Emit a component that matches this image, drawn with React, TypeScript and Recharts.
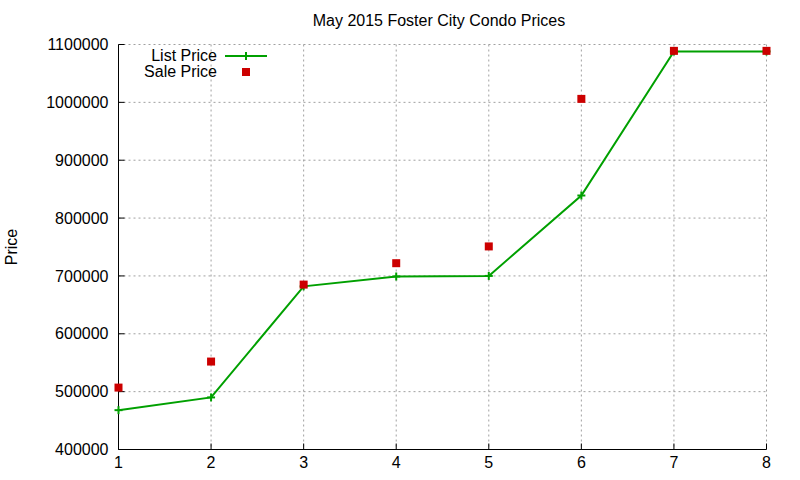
import React from 'react';
import { LineChart, Line, XAxis, YAxis, CartesianGrid } from 'recharts';

const homes = [1, 2, 3, 4, 5, 6, 7, 8];
const listPrice = [468000, 490000, 682000, 699000, 700000, 839000, 1088000, 1088000];
const salePrice = [507000, 552000, 685000, 722000, 751000, 1006000, 1089000, 1089000];
const yTicks = [400000, 500000, 600000, 700000, 800000, 900000, 1000000, 1100000];

const GREEN = '#00a000';
const RED = '#cc0000';
const FONT = '"Liberation Sans", Arial, sans-serif';

const data = homes.map((x, i) => ({ x, list: listPrice[i], sale: salePrice[i] }));

const PlusDot = (props: any) => {
  const { cx, cy } = props;
  if (cx == null || cy == null) return null;
  return (
    <g>
      <line x1={cx - 4} x2={cx + 4} y1={cy} y2={cy} stroke={GREEN} strokeWidth={2} />
      <line x1={cx} x2={cx} y1={cy - 4} y2={cy + 4} stroke={GREEN} strokeWidth={2} />
    </g>
  );
};

const SquareDot = (props: any) => {
  const { cx, cy } = props;
  if (cx == null || cy == null) return null;
  return <rect x={cx - 4} y={cy - 4} width={8} height={8} fill={RED} />;
};

const tickStyle = { fill: '#000', fontSize: 16, fontFamily: FONT };
const axisLine = { stroke: '#000', strokeWidth: 1 };
const tickLine = { stroke: '#000', strokeWidth: 1 };

export default function App() {
  return (
    <div style={{ position: 'absolute', left: 0, top: 0, width: 800, height: 480, background: '#fff', fontFamily: FONT }}>
      <div style={{ position: 'absolute', left: 0, width: 878, top: 11, textAlign: 'center', fontSize: 16, lineHeight: '20px' }}>
        May 2015 Foster City Condo Prices
      </div>
      <div
        style={{
          position: 'absolute', left: 12, top: 247, fontSize: 16, lineHeight: '20px',
          transform: 'translate(-50%, -50%) rotate(-90deg)', whiteSpace: 'nowrap',
        }}
      >
        Price
      </div>
      <LineChart width={800} height={480} data={data} margin={{ top: 44.5, right: 33.5, bottom: 0, left: 0.5 }}>
        <CartesianGrid stroke="#a0a0a0" strokeDasharray="2 3" strokeWidth={1} />
        <XAxis
          dataKey="x" type="number" domain={[1, 8]} ticks={homes} height={30.5}
          axisLine={axisLine} tickLine={tickLine} tickSize={-6} tickMargin={13} tick={tickStyle}
          interval={0}
        />
        <XAxis
          xAxisId="top" orientation="top" type="number" domain={[1, 8]} ticks={homes}
          height={0} mirror axisLine={axisLine} tickLine={tickLine} tickSize={6} tick={false}
        />
        <YAxis
          type="number" domain={[400000, 1100000]} ticks={yTicks} width={118}
          axisLine={axisLine} tickLine={tickLine} tickSize={-6} tickMargin={16} tick={tickStyle} interval={0}
        />
        <YAxis
          yAxisId="right" orientation="right" type="number" domain={[400000, 1100000]} ticks={yTicks}
          width={0} mirror axisLine={axisLine} tickLine={tickLine} tickSize={6} tick={false}
        />
        <Line
          dataKey="list" type="linear" stroke={GREEN} strokeWidth={2}
          dot={<PlusDot />} activeDot={false} isAnimationActive={false}
        />
        <Line
          dataKey="sale" stroke="none" dot={<SquareDot />} activeDot={false} isAnimationActive={false}
        />
      </LineChart>
      <div style={{ position: 'absolute', left: 120, top: 48, fontSize: 16, lineHeight: '16px' }}>
        <div style={{ display: 'flex', alignItems: 'center', height: 16 }}>
          <span style={{ width: 97, textAlign: 'right' }}>List Price</span>
          <svg width={50} height={16} style={{ marginLeft: 8 }}>
            <line x1={0} x2={42} y1={8} y2={8} stroke={GREEN} strokeWidth={2} />
            <line x1={21} x2={21} y1={4} y2={12} stroke={GREEN} strokeWidth={2} />
          </svg>
        </div>
        <div style={{ display: 'flex', alignItems: 'center', height: 16 }}>
          <span style={{ width: 97, textAlign: 'right' }}>Sale Price</span>
          <svg width={50} height={16} style={{ marginLeft: 8 }}>
            <rect x={17} y={4} width={8} height={8} fill={RED} />
          </svg>
        </div>
      </div>
    </div>
  );
}
